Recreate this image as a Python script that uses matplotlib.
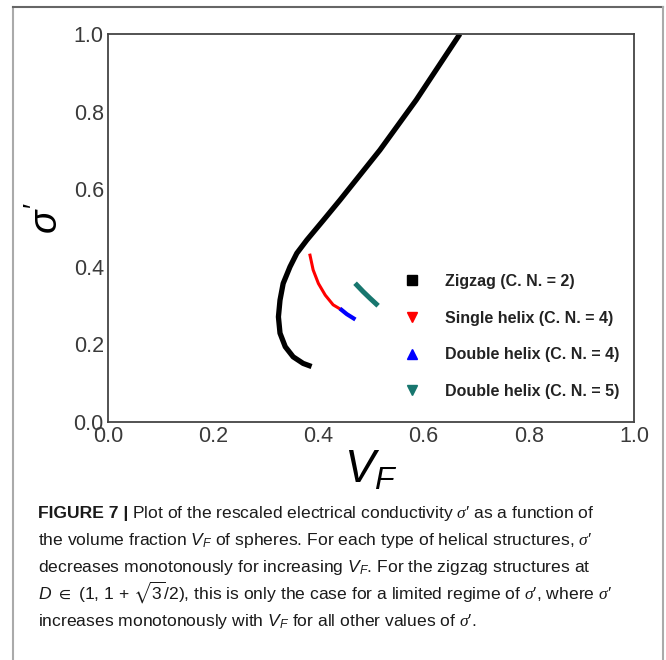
import matplotlib
matplotlib.use("Agg")
import matplotlib.pyplot as plt
from matplotlib.lines import Line2D

plt.rcParams['mathtext.fontset'] = 'custom'
plt.rcParams['mathtext.rm'] = 'Liberation Sans'
plt.rcParams['mathtext.it'] = 'Liberation Sans:italic'
plt.rcParams['mathtext.bf'] = 'Liberation Sans:bold'
plt.rcParams['mathtext.sf'] = 'Liberation Serif:italic'
plt.rcParams['mathtext.fallback'] = 'stixsans'

# ---- data ----
zigzag_vf = [0.669, 0.586, 0.517, 0.441, 0.410, 0.378, 0.359, 0.346, 0.333, 0.327,
             0.324, 0.327, 0.337, 0.352, 0.371, 0.387]
zigzag_sigma = [1.000, 0.830, 0.701, 0.572, 0.521, 0.469, 0.435, 0.400, 0.357, 0.314,
                0.271, 0.229, 0.194, 0.168, 0.151, 0.143]
single4_vf = [0.384, 0.390, 0.400, 0.413, 0.428, 0.444]
single4_sigma = [0.430, 0.392, 0.357, 0.327, 0.302, 0.289]
double4_vf = [0.444, 0.454, 0.467]
double4_sigma = [0.289, 0.278, 0.267]
double5_vf = [0.473, 0.485, 0.498, 0.510]
double5_sigma = [0.353, 0.336, 0.319, 0.304]

series_labels = ["Zigzag (C. N. = 2)", "Single helix (C. N. = 4)",
                 "Double helix (C. N. = 4)", "Double helix (C. N. = 5)"]
xticks = [0.0, 0.2, 0.4, 0.6, 0.8, 1.0]
yticks = [0.0, 0.2, 0.4, 0.6, 0.8, 1.0]
tick_labels = ["0.0", "0.2", "0.4", "0.6", "0.8", "1.0"]

S = r"$\mathsf{\sigma}$′"
caption_lines = [
    "Plot of the rescaled electrical conductivity " + S + " as a function of",
    "the volume fraction $V_F$ of spheres. For each type of helical structures, " + S,
    "decreases monotonously for increasing $V_F$. For the zigzag structures at",
    "$D\\ \\in$ (1, 1 + $\\sqrt{3}$/2), this is only the case for a limited regime of " + S + ", where " + S,
    "increases monotonously with $V_F$ for all other values of " + S + ".",
]

W, H = 666, 660
fig = plt.figure(figsize=(W / 100, H / 100), dpi=100)
fig.patch.set_facecolor('white')

L, R, T, B = 108, 634, 34, 422
ax = fig.add_axes([L / W, 1 - B / H, (R - L) / W, (B - T) / H])

colors = ['#000000', '#ff0000', '#0000ff', '#17766e']
ax.plot(zigzag_vf, zigzag_sigma, color=colors[0], lw=3.8, solid_capstyle='butt', solid_joinstyle='round')
ax.plot(single4_vf, single4_sigma, color=colors[1], lw=2.2, solid_joinstyle='round')
ax.plot(double4_vf, double4_sigma, color=colors[2], lw=3.0, solid_joinstyle='round')
ax.plot(double5_vf, double5_sigma, color=colors[3], lw=3.6, solid_joinstyle='round')

ax.set_xlim(0, 1)
ax.set_ylim(0, 1)
ax.set_xticks(xticks)
ax.set_xticklabels(tick_labels)
ax.set_yticks(yticks)
ax.set_yticklabels(tick_labels)
ax.tick_params(length=0, pad=3, labelsize=15.5, labelcolor='#3a3a3a')
for lab in ax.get_xticklabels() + ax.get_yticklabels():
    lab.set_fontfamily('Liberation Sans')
for sp in ax.spines.values():
    sp.set_color('#444444')
    sp.set_linewidth(1.3)

ax.set_xlabel(r"$V_F$", fontsize=33, labelpad=0)
ax.set_ylabel(r"$\sigma'$", fontsize=28, va='center')
ax.yaxis.set_label_coords((47 - L) / (R - L), (B - 218) / (B - T))

markers = ['s', 'v', '^', 'v']
handles = [Line2D([], [], ls='none', marker=m, color=c, markersize=7)
           for m, c in zip(markers, colors)]
leg = ax.legend(handles, series_labels, loc='upper left',
                bbox_to_anchor=((404 - L) / (R - L), (B - 274) / (B - T)),
                frameon=False, borderpad=0, borderaxespad=0,
                handlelength=1.0, handletextpad=1.55, labelspacing=1.35,
                prop={'family': 'Liberation Sans', 'weight': 'bold', 'size': 11.5})
for t in leg.get_texts():
    t.set_color('#222222')

# ---- caption ----
cap_family = ['Liberation Sans', 'DejaVu Sans']
cap_size = 12.6
x0 = 38 / W
baselines = [518, 545, 572, 599, 626]
renderer = fig.canvas.get_renderer()
bold = fig.text(x0, 1 - baselines[0] / H, "FIGURE 7 |", family=cap_family,
                weight='bold', fontsize=cap_size, va='baseline', color='#1a1a1a')
bb = bold.get_window_extent(renderer)
fig.text(bb.x1 / W + 4 / W, 1 - baselines[0] / H, caption_lines[0], family=cap_family,
         fontsize=cap_size, va='baseline', color='#1a1a1a')
for line, yb in zip(caption_lines[1:], baselines[1:]):
    fig.text(x0, 1 - yb / H, line, family=cap_family, fontsize=cap_size,
             va='baseline', color='#1a1a1a')

# ---- frame ----
fig.add_artist(Line2D([13 / W, 13 / W], [0, 1 - 7 / H], transform=fig.transFigure,
                      color='#aaaaaa', lw=1.5))
fig.add_artist(Line2D([13 / W, 663 / W], [1 - 7 / H, 1 - 7 / H], transform=fig.transFigure,
                      color='#666666', lw=1.5))
fig.add_artist(Line2D([663 / W, 663 / W], [0, 1 - 7 / H], transform=fig.transFigure,
                      color='#aaaaaa', lw=1.5))

fig.savefig("out.png", dpi=100)
